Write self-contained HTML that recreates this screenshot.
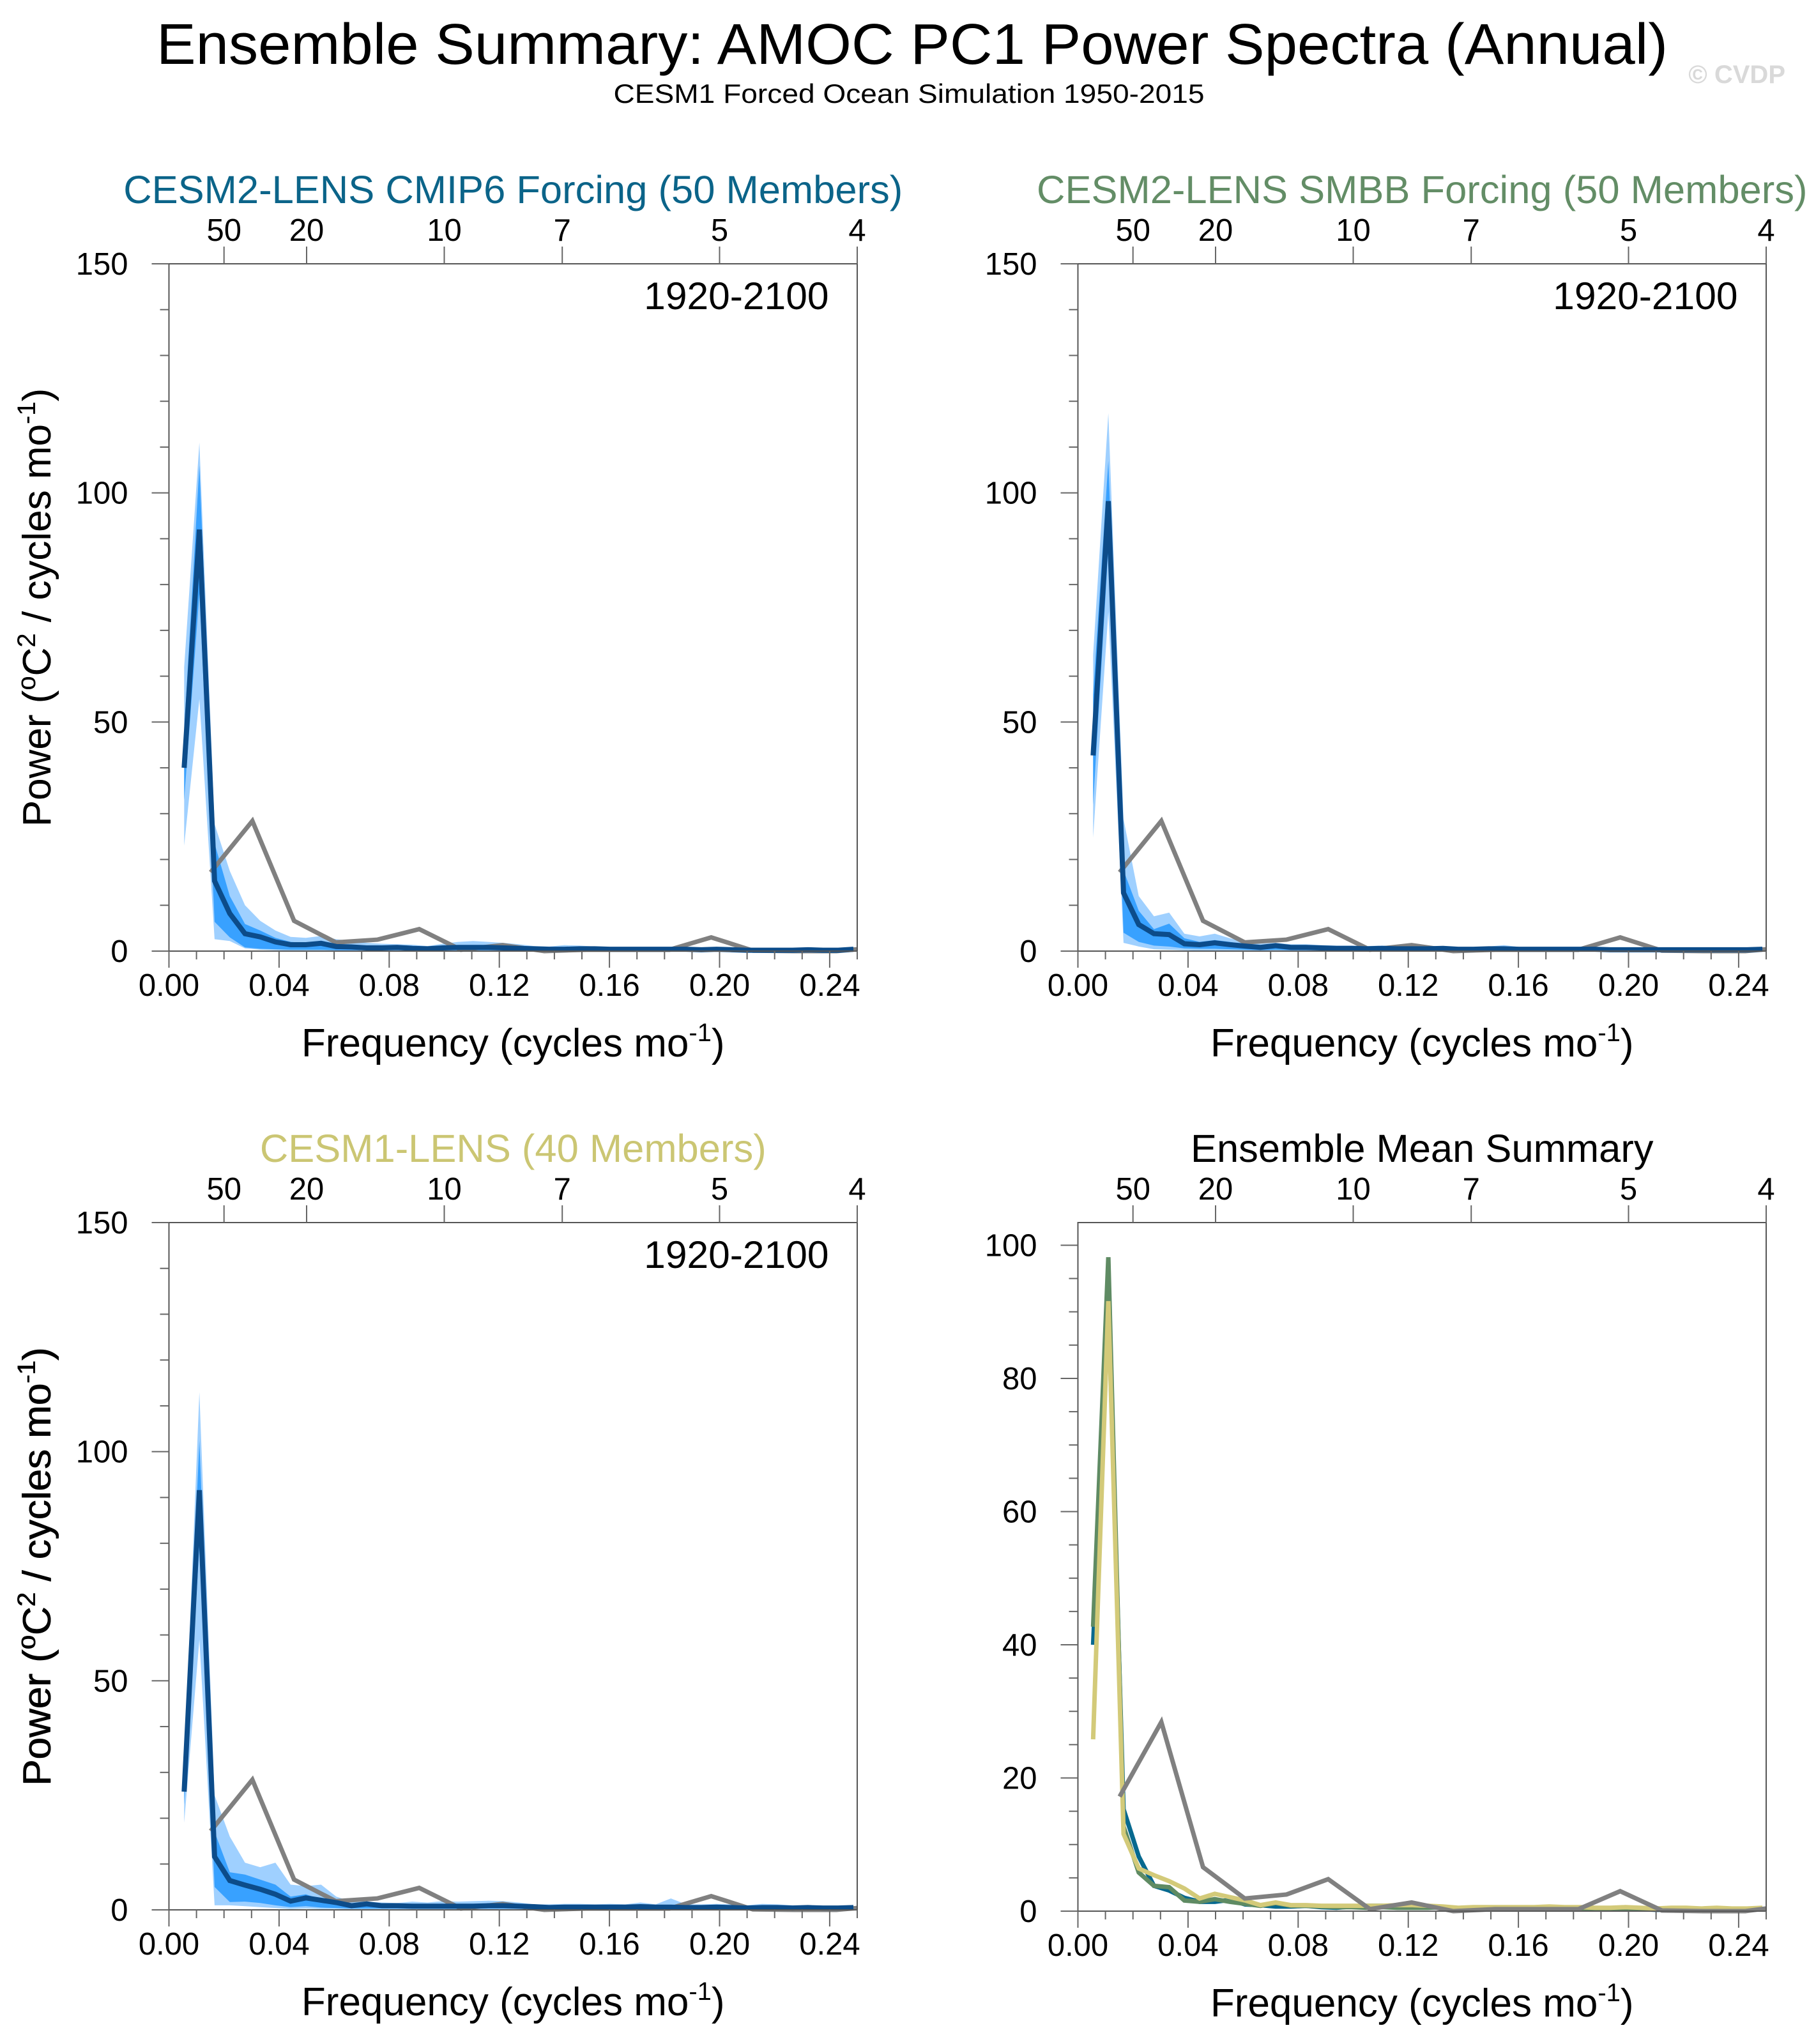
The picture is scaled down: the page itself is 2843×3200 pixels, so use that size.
<!DOCTYPE html>
<html><head><meta charset="utf-8">
<style>
html,body{margin:0;padding:0;background:#fff;}
svg{display:block;font-family:"Liberation Sans",sans-serif;}
</style></head>
<body>
<svg id="chart" width="2843" height="3200" viewBox="0 0 2843 3200">
  <text x="1428" y="100" font-size="90" text-anchor="middle" textLength="2366" lengthAdjust="spacingAndGlyphs">Ensemble Summary: AMOC PC1 Power Spectra (Annual)</text>
  <text x="1423" y="161" font-size="42" text-anchor="middle" textLength="925" lengthAdjust="spacingAndGlyphs">CESM1 Forced Ocean Simulation 1950-2015</text>
  <text x="2795" y="130" font-size="40" font-weight="bold" fill="#d9d9d9" text-anchor="end">© CVDP</text>
</svg>
<script>
// ---- data ----
const ensFreq = [1,2,3,4,5,6,7,8,9,10,11,12,13,14,15,16,17,18,19,20,21,22,23,24,25,26,27,28,29,30,31,32,33,34,35,36,37,38,39,40,41,42,43,44,45].map(k=>k/181);
const obsFreq = [0.01515,0.0303,0.04545,0.0606,0.07576,0.09091,0.10606,0.12121,0.13636,0.15152,0.16667,0.18182,0.19697,0.21212,0.22727,0.24242,0.25];
const obsVals = [17.2,28.4,6.6,1.9,2.5,4.8,0.3,1.3,0,0.3,0.3,0.3,3.0,0.1,0,0,0.4];

const cmip6Mean = [40,92,15.3,8.2,3.8,3.1,2.0,1.4,1.4,1.7,1.0,0.9,0.7,0.7,0.8,0.6,0.5,0.7,0.8,0.8,0.8,0.7,0.6,0.5,0.4,0.4,0.5,0.5,0.4,0.4,0.4,0.4,0.4,0.4,0.3,0.4,0.3,0.2,0.2,0.2,0.2,0.3,0.2,0.2,0.4];
const cmip6Max = [62,111,27.7,17.5,10,6.6,4.5,3.1,2.9,3.3,2.6,2.2,1.8,1.6,1.5,1.4,1.1,1.6,2.0,2.2,2.0,1.8,1.5,1.1,1.0,1.3,1.2,1.0,0.9,0.8,0.8,0.8,0.7,0.7,0.6,0.6,0.6,0.5,0.5,0.5,0.5,0.6,0.5,0.5,0.6];
const cmip6Hi = [48,106,23.5,12,5.9,4.5,2.9,2.0,1.8,2.1,1.6,1.3,1.1,1.0,1.0,0.9,0.7,1.0,1.2,1.3,1.2,1.1,0.9,0.7,0.6,0.7,0.7,0.7,0.6,0.6,0.6,0.5,0.5,0.5,0.4,0.5,0.4,0.3,0.3,0.3,0.3,0.4,0.3,0.3,0.5];
const cmip6Lo = [33,78,6.4,3.0,0.8,0.5,0.4,0.3,0.3,0.3,0.2,0.2,0.2,0.2,0.2,0.2,0.2,0.2,0.2,0.2,0.2,0.2,0.2,0.2,0.2,0.2,0.2,0.2,0.2,0.2,0.2,0.2,0.2,0.2,0.1,0.1,0.1,0.1,0.1,0.1,0.1,0.1,0.1,0.1,0.2];
const cmip6Min = [23,55,2.6,2.2,0.6,0.3,0.2,0.1,0.1,0.1,0.1,0.1,0.1,0.1,0.1,0.1,0.1,0.1,0.1,0.1,0.1,0.1,0.1,0.1,0.1,0.1,0.1,0.1,0.1,0.1,0.1,0.1,0.1,0.1,0.05,0.05,0.05,0.05,0.05,0.05,0.05,0.05,0.05,0.05,0.1];

const smbbMean = [42.7,98.2,12.7,5.8,3.8,3.6,1.6,1.4,1.8,1.4,1.1,0.8,1.2,0.8,0.8,0.7,0.6,0.6,0.5,0.6,0.5,0.5,0.5,0.6,0.4,0.4,0.5,0.5,0.4,0.4,0.4,0.4,0.4,0.4,0.3,0.3,0.3,0.3,0.3,0.3,0.3,0.3,0.3,0.3,0.4];
const smbbMax = [64.7,117.4,28.8,12,7.6,8.4,3.8,3.2,3.8,2.8,2.0,1.6,1.8,1.5,1.5,1.3,1.2,1.2,1.1,1.2,1.1,1.0,1.0,1.1,0.9,0.9,1.0,1.3,0.9,0.8,0.8,0.8,0.8,0.8,0.7,0.7,0.7,0.6,0.6,0.6,0.6,0.6,0.6,0.6,0.6];
const smbbHi = [56,107,17.6,8.8,4.8,6.0,2.8,2.0,2.4,2.0,1.5,1.1,1.5,1.1,1.1,1.0,0.9,0.9,0.8,0.9,0.8,0.7,0.7,0.8,0.6,0.6,0.7,0.8,0.6,0.6,0.6,0.6,0.6,0.6,0.5,0.5,0.5,0.4,0.4,0.4,0.4,0.4,0.4,0.4,0.5];
const smbbLo = [32,88,4.0,2.0,1.2,1.0,0.6,0.5,0.5,0.4,0.3,0.2,0.3,0.2,0.2,0.2,0.2,0.2,0.2,0.2,0.2,0.2,0.2,0.2,0.2,0.2,0.2,0.2,0.2,0.2,0.2,0.2,0.2,0.2,0.2,0.2,0.2,0.2,0.2,0.2,0.2,0.2,0.2,0.2,0.2];
const smbbMin = [24.8,74,1.8,1.0,0.4,0.3,0.2,0.1,0.1,0.1,0.1,0.1,0.1,0.1,0.1,0.1,0.1,0.1,0.1,0.1,0.1,0.1,0.1,0.1,0.1,0.1,0.1,0.1,0.1,0.1,0.1,0.1,0.1,0.1,0.1,0.1,0.1,0.1,0.1,0.1,0.1,0.1,0.1,0.1,0.1];

const lensMean = [25.8,91.6,11.6,6.4,5.4,4.5,3.4,1.9,2.6,2.1,1.6,0.9,1.3,0.9,0.9,0.8,0.8,0.8,0.8,0.8,0.9,0.9,0.8,0.7,0.5,0.6,0.6,0.6,0.6,0.6,0.7,0.6,0.6,0.5,0.5,0.6,0.5,0.4,0.5,0.5,0.4,0.5,0.4,0.4,0.5];
const lensMax = [31,113,25,16,10.3,9.3,10.3,5.5,5.2,5.5,2.9,1.8,1.8,1.6,1.5,1.8,1.6,1.9,1.8,1.9,2.0,1.9,1.6,1.2,1.2,1.3,1.3,1.2,1.3,1.2,1.6,1.2,2.5,1.2,1.2,1.3,1.2,1.0,1.3,1.2,1.0,1.0,0.9,0.9,0.8];
const lensHi = [28,102.4,17,8.2,7.7,6.6,5.5,2.9,3.4,2.3,2.0,1.3,1.6,1.2,1.2,1.1,1.1,1.2,1.2,1.2,1.3,1.2,1.1,0.9,0.8,0.9,0.9,0.9,0.9,0.9,1.0,0.9,1.1,0.8,0.8,0.9,0.8,0.6,0.8,0.8,0.6,0.7,0.6,0.6,0.7];
const lensLo = [23,79.5,5,1.7,1.8,1.5,1.0,0.6,0.8,0.5,0.4,0.3,0.3,0.3,0.3,0.3,0.3,0.3,0.3,0.3,0.3,0.3,0.3,0.3,0.3,0.3,0.3,0.3,0.3,0.3,0.3,0.3,0.3,0.3,0.3,0.3,0.3,0.2,0.3,0.3,0.2,0.2,0.2,0.2,0.3];
const lensMin = [19,59,1,1,0.8,0.6,0.4,0.2,0.3,0.2,0.2,0.1,0.1,0.1,0.1,0.1,0.1,0.1,0.1,0.1,0.1,0.1,0.1,0.1,0.1,0.1,0.1,0.1,0.1,0.1,0.1,0.1,0.1,0.1,0.1,0.1,0.1,0.1,0.1,0.1,0.1,0.1,0.1,0.1,0.1];

const xTicks = [0,0.04,0.08,0.12,0.16,0.20,0.24];
const xTickLabels = ["0.00","0.04","0.08","0.12","0.16","0.20","0.24"];
const periodLabels = ["50","20","10","7","5","4"];
const periodYears = [50,20,10,7,5,4];
const yTicksBand = [0,50,100,150];
const yTicksMean = [0,20,40,60,80,100];

// ---- drawing ----
const NS = "http://www.w3.org/2000/svg";
const svg = document.getElementById('chart');
function mk(tag, attrs, parent){
  const e = document.createElementNS(NS, tag);
  for (const k in attrs) e.setAttribute(k, attrs[k]);
  (parent||svg).appendChild(e);
  return e;
}
const LIGHT="#9fd0ff", DARK="#38a1ff", NAVY="#0c4c8a", GRAY="#808080";

function panel(o){
  const g = mk('g', {});
  
  
  const X0=o.x, Y0=o.y, W=1077.5, H=o.h;
  const xs = f => X0 + f/0.25*W;
  const ys = v => Y0 + H - (v - o.ymin)/(o.ymax - o.ymin)*H;
  if (o.bands){
    o.bands.forEach(b=>{
      let pts = ensFreq.map((f,i)=>xs(f)+','+ys(b.up[i]));
      for (let i=ensFreq.length-1;i>=0;i--) pts.push(xs(ensFreq[i])+','+ys(b.lo[i]));
      const p = mk('polygon', {points: pts.join(' '), fill: b.color}, g);
      
      
    });
  }
  o.lines.forEach(l=>{
    const pts = l.f.map((f,i)=>xs(f)+','+ys(l.v[i])).join(' ');
    const p = mk('polyline', {points: pts, fill:'none', stroke:l.color, 'stroke-width':l.w, 'stroke-linejoin':'miter'}, g);
    
    
  });
  const fr = mk('rect', {x:X0, y:Y0, width:W, height:H, fill:'none', stroke:'#555', 'stroke-width':2}, g);
  
  
  for (let m=0;m<=25;m++){
    const f=m*0.01, x=xs(f), major=(m%4===0);
    mk('line', {x1:x, x2:x, y1:Y0+H, y2:Y0+H+(major?26:13), stroke:'#666', 'stroke-width':2}, g);
  }
  xTicks.forEach((t,i)=>{
    const tx = mk('text', {x:xs(t), y:Y0+H+70, 'font-size':49, 'text-anchor':'middle'}, g);
    tx.textContent = xTickLabels[i];
    
    
  });
  periodYears.forEach((p,i)=>{
    const x = xs(1/p);
    mk('line', {x1:x, x2:x, y1:Y0, y2:Y0-27, stroke:'#666', 'stroke-width':2}, g);
    const tx = mk('text', {x:x, y:Y0-36, 'font-size':49, 'text-anchor':'middle'}, g);
    tx.textContent = periodLabels[i];
    
    
  });
  for (let v=o.ymin<0?0:o.ymin; v<=o.ymax+1e-6; v+=o.minor){
    const y=ys(v), major=(Math.abs(v/o.major-Math.round(v/o.major))<1e-6);
    mk('line', {x1:X0, x2:X0-(major?27:14), y1:y, y2:y, stroke:'#666', 'stroke-width':2}, g);
  }
  o.yTicks.forEach(v=>{
    const tx = mk('text', {x:X0-64, y:ys(v)+17, 'font-size':49, 'text-anchor':'end'}, g);
    tx.textContent = String(v);
    
    
  });
  const xt = mk('text', {x:X0+W/2, y:Y0+H+165, 'font-size':62, 'text-anchor':'middle'}, g);
  xt.innerHTML = 'Frequency (cycles mo<tspan dy="-24" font-size="40">-1</tspan><tspan dy="24">)</tspan>';
  
  
  const yt = mk('text', {x:0, y:0, 'font-size':62, 'text-anchor':'middle', transform:`translate(79,${Y0+H/2}) rotate(-90)`}, g);
  yt.innerHTML = 'Power (<tspan dy="-24" font-size="40">o</tspan><tspan dy="24">C</tspan><tspan dy="-24" font-size="40">2</tspan><tspan dy="24"> / cycles mo</tspan><tspan dy="-24" font-size="40">-1</tspan><tspan dy="24">)</tspan>';
  
  
  const pt = mk('text', {x:X0+W/2, y:Y0-95, 'font-size':61.5, 'text-anchor':'middle', fill:o.titleColor}, g);
  pt.textContent = o.title;
  
  
  if (o.period){
    const pr = mk('text', {x:X0+1033, y:Y0+71, 'font-size':60.5, 'text-anchor':'end'}, g);
    pr.textContent = o.period;
    
    
  }
}

function bandPanel(name, x, y, title, color, mean, mx, hi, lo, mn){
  panel({name, x, y, h:1076, ymin:0, ymax:150, major:50, minor:10, yTicks:yTicksBand,
    title, titleColor:color, period:'1920-2100',
    bands:[{up:mx, lo:mn, color:LIGHT, name:'min-max-band'},{up:hi, lo:lo, color:DARK, name:'inner-percentile-band'}],
    lines:[{f:obsFreq, v:obsVals, color:GRAY, w:7, name:'observed-spectrum-line'},
           {f:ensFreq, v:mean, color:NAVY, w:8, name:'ensemble-mean-line'}]});
}
bandPanel('panel-cesm2-cmip6', 264.5, 413, 'CESM2-LENS CMIP6 Forcing (50 Members)', '#0b6489', cmip6Mean, cmip6Max, cmip6Hi, cmip6Lo, cmip6Min);
bandPanel('panel-cesm2-smbb', 1687.5, 413, 'CESM2-LENS SMBB Forcing (50 Members)', '#638d66', smbbMean, smbbMax, smbbHi, smbbLo, smbbMin);
bandPanel('panel-cesm1-lens', 264.5, 1914, 'CESM1-LENS (40 Members)', '#cbc673', lensMean, lensMax, lensHi, lensLo, lensMin);
panel({name:'panel-ensemble-mean-summary', x:1687.5, y:1914, h:1078, ymin:0, ymax:103.4, major:20, minor:5, yTicks:yTicksMean,
  title:'Ensemble Mean Summary', titleColor:'#000', period:null,
  lines:[{f:ensFreq, v:cmip6Mean, color:'#07698f', w:7, name:'cmip6-mean-line'},
         {f:ensFreq, v:smbbMean, color:'#5f8b63', w:7, name:'smbb-mean-line'},
         {f:ensFreq, v:lensMean, color:'#d3ca79', w:7, name:'cesm1-mean-line'},
         {f:obsFreq, v:obsVals, color:GRAY, w:7, name:'observed-spectrum-line'}]});
</script>
</body></html>
